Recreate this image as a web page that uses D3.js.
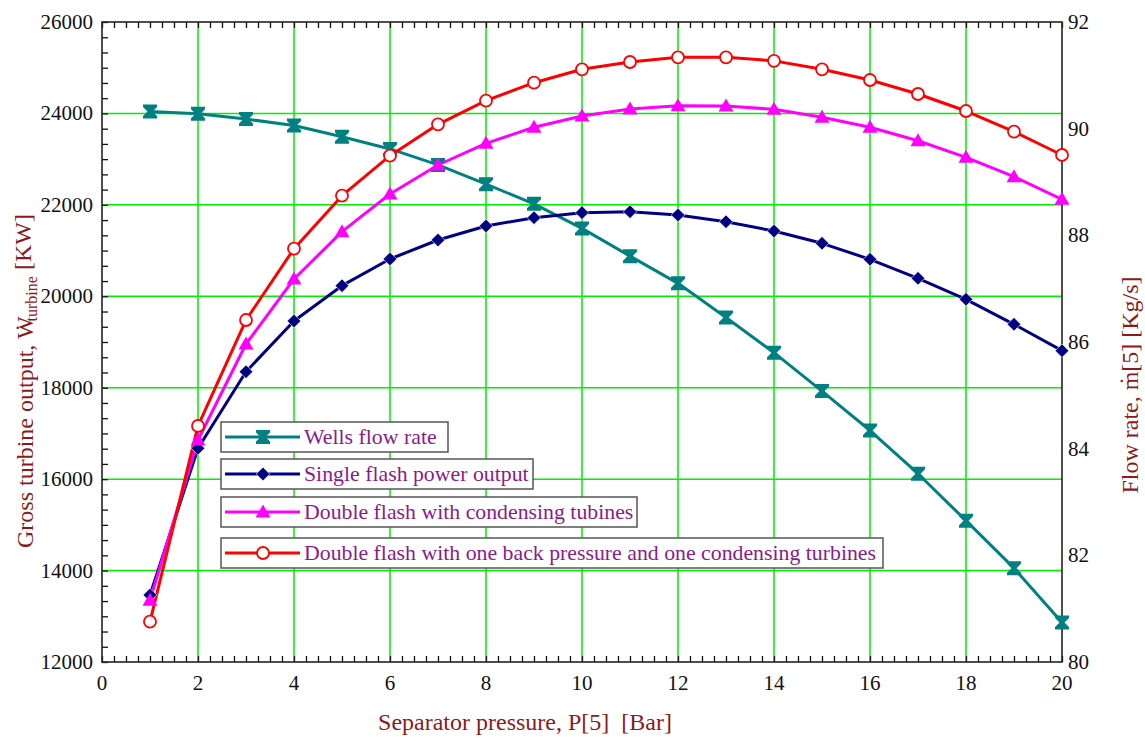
<!DOCTYPE html>
<html>
<head>
<meta charset="utf-8">
<script src="https://cdn.jsdelivr.net/npm/d3@7"></script>
<style>
  html, body { margin: 0; padding: 0; background: #fff; }
  svg { display: block; }
  text { font-family: "Liberation Serif", "Times New Roman", serif; }
</style>
</head>
<body>
<svg id="chart" width="1145" height="738"></svg>
<script>
// Separator pressure [bar]
const pressure = [1,2,3,4,5,6,7,8,9,10,11,12,13,14,15,16,17,18,19,20];

// Wells flow rate [kg/s] (right axis)
const wellsFlow = [90.32,90.28,90.18,90.06,89.85,89.62,89.32,88.96,88.59,88.13,
                   87.61,87.10,86.46,85.80,85.08,84.34,83.53,82.65,81.76,80.74];

// Gross turbine output [kW] (left axis)
const singleFlash = [13466,16675,18350,19459,20232,20816,21231,21538,21719,21829,
                     21850,21778,21632,21428,21159,20809,20393,19934,19387,18810];
const doubleCond = [13350,16856,18956,20378,21413,22238,22872,23346,23697,23944,
                    24097,24169,24162,24090,23915,23697,23403,23040,22616,22122];
const doubleBack = [12882,17163,19481,21041,22200,23075,23762,24279,24672,24965,
                    25125,25228,25228,25150,24965,24731,24425,24053,23600,23091];

const xTicks = [0,2,4,6,8,10,12,14,16,18,20];
const yLeftTicks = [12000,14000,16000,18000,20000,22000,24000,26000];
const yRightTicks = [80,82,84,86,88,90,92];

const legendLabels = [
  "Wells flow rate",
  "Single flash power output",
  "Double flash with condensing tubines",
  "Double flash with one back pressure and one condensing turbines"
];

const svg = d3.select("#chart");
const L = 102, R = 1062, T = 22, B = 662;

const x = d3.scaleLinear().domain([0, 20]).range([L, R]);
const yL = d3.scaleLinear().domain([12000, 26000]).range([B, T]);
const yR = d3.scaleLinear().domain([80, 92]).range([B, T]);

const GRID = "#00ee00";
const TITLE = "#8b1a1a";
const LEGEND_TXT = "#8b1a89";

// grid
const grid = svg.append("g");
grid.selectAll("line.v").data(xTicks.filter(d => d > 0 && d < 20)).join("line")
  .attr("x1", d => x(d)).attr("x2", d => x(d)).attr("y1", T).attr("y2", B)
  .attr("stroke", GRID).attr("stroke-width", 1.5);
grid.selectAll("line.h").data(yLeftTicks.filter(d => d > 12000 && d < 26000)).join("line")
  .attr("x1", L).attr("x2", R).attr("y1", d => yL(d)).attr("y2", d => yL(d))
  .attr("stroke", GRID).attr("stroke-width", 1.5);

// inward ticks
const xMinor = d3.range(0, 20.001, 0.25);
const yMinor = d3.range(12000, 26001, 2000 / 6);

function styleAxis(g) {
  g.select(".domain").remove();
  g.selectAll(".tick line").attr("stroke", "#111").attr("stroke-width", 1.3);
}
svg.append("g").attr("transform", `translate(0,${B})`)
  .call(d3.axisBottom(x).tickValues(xMinor).tickSize(-6).tickFormat(""))
  .call(styleAxis);
svg.append("g").attr("transform", `translate(0,${T})`)
  .call(d3.axisTop(x).tickValues(xMinor).tickSize(-6).tickFormat(""))
  .call(styleAxis);
svg.append("g").attr("transform", `translate(${L},0)`)
  .call(d3.axisLeft(yL).tickValues(yMinor).tickSize(-6).tickFormat(""))
  .call(styleAxis);

// tick labels
const tickFont = "21px";
svg.append("g").selectAll("text").data(xTicks).join("text")
  .attr("x", d => x(d)).attr("y", 690)
  .attr("text-anchor", "middle").attr("font-size", tickFont).attr("fill", "#111")
  .text(d => d);
svg.append("g").selectAll("text").data(yLeftTicks).join("text")
  .attr("x", 93).attr("y", d => yL(d) + 7)
  .attr("text-anchor", "end").attr("font-size", tickFont).attr("fill", "#111")
  .text(d => d);
svg.append("g").selectAll("text").data(yRightTicks).join("text")
  .attr("x", 1068).attr("y", d => yR(d) + 7)
  .attr("text-anchor", "start").attr("font-size", tickFont).attr("fill", "#111")
  .text(d => d);

// frame
svg.append("rect").attr("x", L).attr("y", T).attr("width", R - L).attr("height", B - T)
  .attr("fill", "none").attr("stroke", "#222").attr("stroke-width", 1.6);

// axis titles
svg.append("text").attr("x", 525).attr("y", 730).attr("text-anchor", "middle")
  .attr("font-size", "24px").attr("fill", TITLE).style("white-space", "pre")
  .text("Separator pressure, P[5]  [Bar]");

const lt = svg.append("text")
  .attr("transform", "translate(33,548) rotate(-90)")
  .attr("font-size", "24px").attr("fill", TITLE).style("white-space", "pre");
lt.append("tspan").text("Gross turbine output, W");
lt.append("tspan").attr("dx", "-0.64em").attr("dy", "-0.05em").text("˙");
lt.append("tspan").attr("dx", "0.15em").attr("dy", "0.3em").attr("font-size", "16px").text("turbine");
lt.append("tspan").attr("dy", "-0.25em").text(" [KW]");

const rt = svg.append("text")
  .attr("transform", "translate(1138,385) rotate(-90)")
  .attr("text-anchor", "middle")
  .attr("font-size", "24px").attr("fill", TITLE).style("white-space", "pre");
rt.append("tspan").text("Flow rate, m");
rt.append("tspan").attr("dx", "-0.56em").attr("dy", "-0.1em").text("˙");
rt.append("tspan").attr("dx", "0.22em").attr("dy", "0.1em").text("[5] [Kg/s]");

// series
const series = [
  { label: legendLabels[0], values: wellsFlow,  axis: yR, color: "#008080", marker: "bowtie" },
  { label: legendLabels[1], values: singleFlash, axis: yL, color: "#000080", marker: "diamond" },
  { label: legendLabels[2], values: doubleCond,  axis: yL, color: "#ff00ff", marker: "triangle" },
  { label: legendLabels[3], values: doubleBack,  axis: yL, color: "#ff0000", marker: "circle" }
];

function drawMarker(g, type, color) {
  if (type === "bowtie") {
    g.append("path").attr("d", "M-7,-7H7V-4.5L2.5,0L7,4.5V7H-7V4.5L-2.5,0L-7,-4.5Z")
      .attr("fill", color);
  } else if (type === "diamond") {
    g.append("path").attr("d", "M0,-6.8L6.8,0L0,6.8L-6.8,0Z")
      .attr("fill", color).attr("stroke", "#fff").attr("stroke-width", 0.6);
  } else if (type === "triangle") {
    g.append("path").attr("d", "M0,-7.5L7.5,5.5L-7.5,5.5Z").attr("fill", color);
  } else {
    g.append("circle").attr("r", 6).attr("fill", "#fff")
      .attr("stroke", color).attr("stroke-width", 1.8);
  }
}

const plot = svg.append("g");
series.forEach(s => {
  const line = d3.line().x((d, i) => x(pressure[i])).y(d => s.axis(d));
  plot.append("path").datum(s.values).attr("d", line)
    .attr("fill", "none").attr("stroke", s.color).attr("stroke-width", 3)
    .attr("stroke-linejoin", "round");
});
series.forEach(s => {
  s.values.forEach((v, i) => {
    const g = plot.append("g").attr("transform", `translate(${x(pressure[i])},${s.axis(v)})`);
    drawMarker(g, s.marker, s.color);
  });
});

// legend
const legendBoxes = [
  { y: 422, w: 227 }, { y: 459, w: 312 }, { y: 497, w: 416 }, { y: 538, w: 662 }
];
const lg = svg.append("g");
series.forEach((s, i) => {
  const b = legendBoxes[i];
  const g = lg.append("g").attr("transform", `translate(221,${b.y})`);
  g.append("rect").attr("width", b.w).attr("height", 30)
    .attr("fill", "#fff").attr("stroke", "#555").attr("stroke-width", 1.5);
  g.append("line").attr("x1", 4).attr("x2", 79).attr("y1", 15).attr("y2", 15)
    .attr("stroke", s.color).attr("stroke-width", 3);
  drawMarker(g.append("g").attr("transform", "translate(42,15)"), s.marker, s.color);
  g.append("text").attr("x", 83).attr("y", 22).attr("font-size", "21.8px")
    .attr("fill", LEGEND_TXT).text(s.label);
});
</script>
</body>
</html>
